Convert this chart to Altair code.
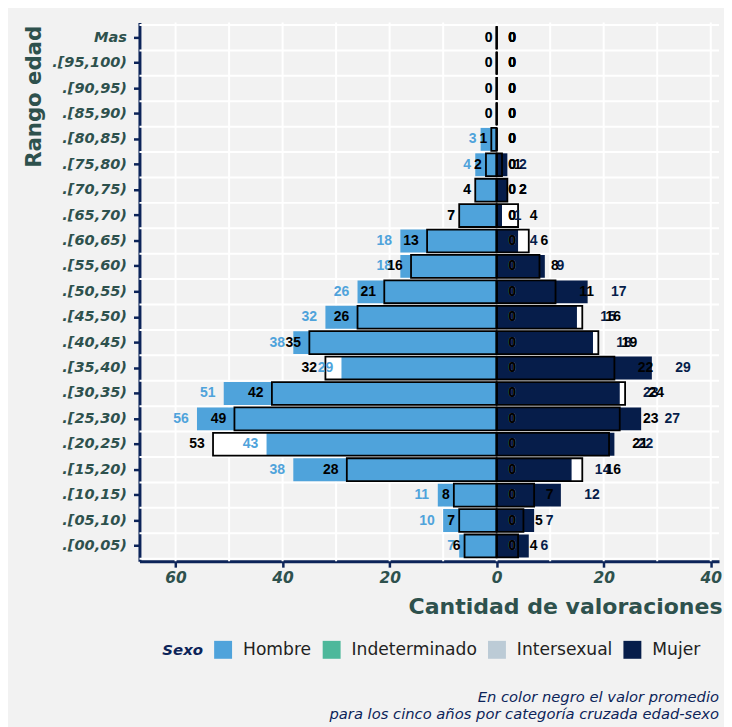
import altair as alt
import pandas as pd

# ---------------- data ----------------
ages = ["Mas", ".[95,100)", ".[90,95)", ".[85,90)", ".[80,85)", ".[75,80)", ".[70,75)",
        ".[65,70)", ".[60,65)", ".[55,60)", ".[50,55)", ".[45,50)", ".[40,45)", ".[35,40)",
        ".[30,35)", ".[25,30)", ".[20,25)", ".[15,20)", ".[10,15)", ".[05,10)", ".[00,05)"]
hombre =       [0, 0, 0, 0, 3, 4, 4, 7, 18, 18, 26, 32, 38, 29, 51, 56, 43, 38, 11, 10, 7]
hombre_prom =  [0, 0, 0, 0, 1, 2, 4, 7, 13, 16, 21, 26, 35, 32, 42, 49, 53, 28, 8, 7, 6]
mujer =        [0, 0, 0, 0, 0, 2, 2, 1, 4, 9, 17, 15, 18, 29, 23, 27, 22, 14, 12, 7, 6]
mujer_prom =   [0, 0, 0, 0, 0, 1, 2, 4, 6, 8, 11, 16, 19, 22, 24, 23, 21, 16, 7, 5, 4]
indet =        [0] * 21
indet_prom =   [0] * 21
inter =        [0] * 21
inter_prom =   [0] * 21

sexos = ["Hombre", "Indeterminado", "Intersexual", "Mujer"]
colores = ["#4FA3DB", "#4DB89B", "#BCCBD6", "#061D4A"]
grid_vals = [-60, -50, -40, -30, -20, -10, 0, 10, 20, 30, 40]
tick_vals = [-60, -40, -20, 0, 20, 40]
caption1 = ["En color negro el valor promedio"]
caption2 = ["para los cinco años por categoría cruzada  edad-sexo"]

series = {"Hombre": (hombre, hombre_prom), "Indeterminado": (indet, indet_prom),
          "Intersexual": (inter, inter_prom), "Mujer": (mujer, mujer_prom)}
records = []
for i, a in enumerate(ages):
    for s in sexos:
        v, p = series[s]
        records.append({"edad": a, "sexo": s, "valor": v[i], "prom": p[i]})
df = pd.DataFrame(records)

# ---------------- style ----------------
W, H = 582, 541
TEAL = "#2E514D"
NAVY = "#0C2459"
FONT = "DejaVu Sans"

xscale = alt.Scale(domain=[-66.75, 41.55], nice=False, zero=False)
yscale = alt.Scale(domain=ages, paddingInner=0.1, paddingOuter=0.15)
cscale = alt.Scale(domain=sexos, range=colores)

xaxis = alt.Axis(values=tick_vals, labelExpr="format(abs(datum.value), 'd')",
                 title="Cantidad de valoraciones", titleFont=FONT, titleFontSize=22.1,
                 titleFontWeight="bold", titleColor=TEAL, titleAnchor="end", titleAlign="right",
                 titleX=W + 3, titleY=53, titleBaseline="alphabetic",
                 labelFont=FONT, labelFontSize=15.5, labelFontStyle="italic", labelFontWeight="bold",
                 labelColor=TEAL, labelPadding=3, tickSize=6, tickWidth=2.5, tickColor=NAVY,
                 domainColor=NAVY, domainWidth=3, grid=False)
yaxis = alt.Axis(title="Rango edad", titleFont=FONT, titleFontSize=21.3, titleFontWeight="bold",
                 titleColor=TEAL, titleAngle=270, titleAlign="right", titleBaseline="middle",
                 titleX=-105, titleY=3,
                 labelFont=FONT, labelFontSize=14.6, labelFontStyle="italic", labelFontWeight="bold",
                 labelColor=TEAL, labelPadding=7, tickSize=6, tickWidth=2.5, tickColor=NAVY,
                 domainColor=NAVY, domainWidth=3, grid=False)


def X(f):
    return alt.X(f, scale=xscale, axis=xaxis)


def Y():
    return alt.Y("edad:N", scale=yscale, axis=yaxis, sort=ages)


base = alt.Chart(df).transform_calculate(
    signo="datum.sexo == 'Hombre' ? -1 : 1",
    cero="0",
).transform_calculate(
    xv="datum.signo * datum.valor",
    xp="datum.signo * datum.prom",
    pv="datum.signo < 0 ? -(datum.valor + 1.5*length(toString(datum.valor))) : datum.valor + 2.9*length(toString(datum.valor))",
    pp="datum.signo < 0 ? -(datum.prom + 1.5*length(toString(datum.prom))) : datum.prom + 2.9*length(toString(datum.prom))",
)

grid_v = alt.Chart(pd.DataFrame({"g": grid_vals})).mark_rule(color="white", strokeWidth=2).encode(
    x=X("g:Q"), y=alt.value(0), y2=alt.value(H))

grid_h = alt.Chart(pd.DataFrame({"edad": ages})).mark_rule(color="white", strokeWidth=2, yOffset=12.76).encode(
    y=Y(), x=alt.value(0), x2=alt.value(W))
grid_top = alt.Chart(pd.DataFrame({"edad": ages[:1]})).mark_rule(color="white", strokeWidth=2, yOffset=-12.76).encode(
    y=Y(), x=alt.value(0), x2=alt.value(W))

white_bars = base.mark_bar(color="white").encode(y=Y(), x=X("xp:Q"), x2=alt.X2("cero:Q"))

bars = base.mark_bar().encode(
    y=Y(), x=X("xv:Q"), x2=alt.X2("cero:Q"),
    color=alt.Color("sexo:N", scale=cscale, legend=alt.Legend(
        orient="none", legendX=23, legendY=621, direction="horizontal", columns=4,
        title="Sexo", titleOrient="left", titleFont=FONT, titleFontStyle="italic",
        titleFontWeight="bold", titleFontSize=15, titleColor=NAVY, titlePadding=11,
        titleBaseline="middle",
        labelFont=FONT, labelFontSize=17.2, labelColor="#222222", labelOffset=11,
        symbolType="square", symbolSize=324, symbolStrokeWidth=0, symbolOpacity=1,
        columnPadding=11)))

outline = base.mark_bar(fillOpacity=0, stroke="black", strokeWidth=1.8).encode(
    y=Y(), x=X("xp:Q"), x2=alt.X2("cero:Q"))

lab_val = base.mark_text(font="Liberation Sans", fontWeight="bold", fontSize=14, baseline="middle").encode(
    y=Y(), x=X("pv:Q"), text="valor:N",
    color=alt.Color("sexo:N", scale=cscale, legend=None))

lab_prom = base.mark_text(font="Liberation Sans", fontWeight="bold", fontSize=14, baseline="middle",
                          color="black").encode(
    y=Y(), x=X("pp:Q"), text="prom:N")

cap1 = alt.Chart(pd.DataFrame({"t": caption1})).mark_text(
    align="right", baseline="alphabetic", font=FONT, fontStyle="italic", fontSize=14.8, color=NAVY
).encode(text="t:N", x=alt.value(W), y=alt.value(682))
cap2 = alt.Chart(pd.DataFrame({"t": caption2})).mark_text(
    align="right", baseline="alphabetic", font=FONT, fontStyle="italic", fontSize=14.8, color=NAVY
).encode(text="t:N", x=alt.value(W), y=alt.value(699))

chart = alt.layer(grid_v, grid_h, grid_top, white_bars, bars, outline, lab_val, lab_prom, cap1, cap2).properties(
    width=W, height=H,
    background="#F2F2F2",
    padding={"left": 132, "top": 13, "right": 5, "bottom": 165},
    autosize=alt.AutoSizeParams(type="none"),
).configure_view(strokeWidth=0)

chart.save("out.html", embed_options={"renderer": "svg", "actions": False})
